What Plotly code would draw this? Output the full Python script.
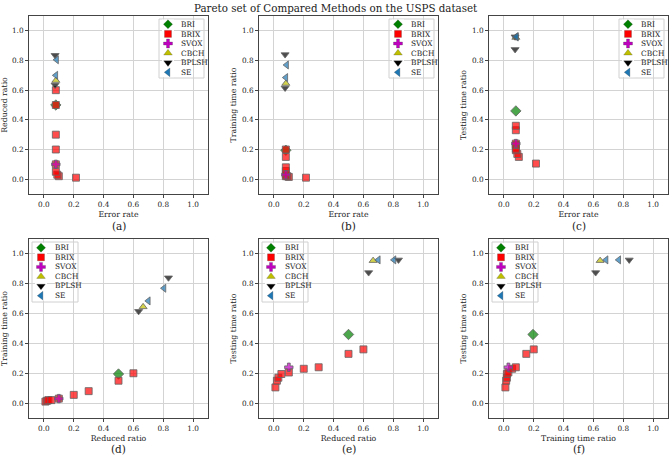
import plotly.graph_objects as go

# ---------------- data ----------------
methods = ["BRI", "BRIX", "SVOX", "CBCH", "BPLSH", "SE"]

bri_error = [0.08]
bri_reduced = [0.50]
bri_train = [0.195]
bri_test = [0.46]

brix_error = [0.215, 0.10, 0.09, 0.08, 0.08, 0.08, 0.08, 0.08, 0.08]
brix_reduced = [0.01, 0.02, 0.03, 0.05, 0.10, 0.20, 0.30, 0.50, 0.60]
brix_train = [0.01, 0.015, 0.02, 0.02, 0.03, 0.055, 0.08, 0.15, 0.20]
brix_test = [0.105, 0.15, 0.17, 0.195, 0.205, 0.23, 0.24, 0.33, 0.36]

svox_error = [0.08]
svox_reduced = [0.10]
svox_train = [0.03]
svox_test = [0.24]

cbch_error = [0.08]
cbch_reduced = [0.665]
cbch_train = [0.645]
cbch_test = [0.955]

bplsh_error = [0.075, 0.075]
bplsh_reduced = [0.835, 0.635]
bplsh_train = [0.84, 0.615]
bplsh_test = [0.96, 0.875]

se_error = [0.08, 0.085]
se_reduced = [0.70, 0.805]
se_train = [0.685, 0.77]
se_test = [0.96, 0.96]

data = {
    "BRI": dict(error=bri_error, reduced=bri_reduced, train=bri_train, test=bri_test),
    "BRIX": dict(error=brix_error, reduced=brix_reduced, train=brix_train, test=brix_test),
    "SVOX": dict(error=svox_error, reduced=svox_reduced, train=svox_train, test=svox_test),
    "CBCH": dict(error=cbch_error, reduced=cbch_reduced, train=cbch_train, test=cbch_test),
    "BPLSH": dict(error=bplsh_error, reduced=bplsh_reduced, train=bplsh_train, test=bplsh_test),
    "SE": dict(error=se_error, reduced=se_reduced, train=se_train, test=se_test),
}

axis_names = {"error": "Error rate", "reduced": "Reduced ratio",
              "train": "Training time ratio", "test": "Testing time ratio"}
panels = [("error", "reduced", "(a)"), ("error", "train", "(b)"), ("error", "test", "(c)"),
          ("reduced", "train", "(d)"), ("reduced", "test", "(e)"), ("train", "test", "(f)")]
tick_vals = [0.0, 0.2, 0.4, 0.6, 0.8, 1.0]
tick_text = ["0.0", "0.2", "0.4", "0.6", "0.8", "1.0"]

# ---------------- styles ----------------
style = {
    "BRI": dict(symbol="diamond", color="rgba(0,128,0,0.7)", solid="#008000", size=8),
    "BRIX": dict(symbol="square", color="rgba(255,0,0,0.7)", solid="#ff0000", size=7),
    "SVOX": dict(symbol="cross", color="rgba(191,0,191,0.7)", solid="#bf00bf", size=7),
    "CBCH": dict(symbol="triangle-up", color="rgba(191,191,0,0.7)", solid="#bfbf00", size=7),
    "BPLSH": dict(symbol="triangle-down", color="rgba(0,0,0,0.7)", solid="#000000", size=7),
    "SE": dict(symbol="triangle-left", color="rgba(31,119,180,0.7)", solid="#1f77b4", size=7),
}
legend_size = {"BRI": 7, "BRIX": 7, "SVOX": 7.5, "CBCH": 7.5, "BPLSH": 7.5, "SE": 7.5}

W, H = 671, 457
FONT = "DejaVu Serif"
TXT = "#222"

col_px = [(29, 208), (259, 438), (489, 668)]
row_px = [(16, 194), (239, 418)]
# legend geometry, pixel offsets from panel's left / top edges
leg_geo = {
    0: dict(box=(130, 175, 3, 62), sym=139, txt=150, first=8.3),
    1: dict(box=(3, 49, 3, 63), sym=12, txt=23.5, first=8.7),
}
STEP = 9.6

fig = go.Figure()
layout = dict(width=W, height=H, margin=dict(l=0, r=0, t=0, b=0),
              paper_bgcolor="white", plot_bgcolor="white", showlegend=False,
              font=dict(family=FONT, size=8, color=TXT))
annotations = []
shapes = []


def px_x(v):
    return v / W


def px_y(v):
    return 1 - v / H


for i, (xk, yk, lab) in enumerate(panels):
    r, c = divmod(i, 3)
    n = "" if i == 0 else str(i + 1)
    x0, x1 = col_px[c]
    yt, yb = row_px[r]
    common = dict(range=[-0.1, 1.1], tickvals=tick_vals, ticktext=tick_text,
                  showgrid=True, gridcolor="#d3d3d3", gridwidth=1, zeroline=False,
                  showline=True, mirror=True, linecolor="#444", linewidth=1,
                  ticks="outside", ticklen=3, tickcolor="#444",
                  tickfont=dict(family=FONT, size=7.3, color=TXT))
    layout["xaxis" + n] = dict(domain=[px_x(x0), px_x(x1)], anchor="y" + n,
                               title=dict(text=axis_names[xk], standoff=3,
                                          font=dict(family=FONT, size=7.8, color=TXT)),
                               **common)
    layout["yaxis" + n] = dict(domain=[px_y(yb), px_y(yt)], anchor="x" + n,
                               title=dict(text=axis_names[yk], standoff=4,
                                          font=dict(family=FONT, size=7.8, color=TXT)),
                               **common)
    for m in methods:
        st = style[m]
        fig.add_trace(go.Scatter(
            x=data[m][xk], y=data[m][yk], mode="markers", name=m,
            xaxis="x" + n, yaxis="y" + n, hoverinfo="skip",
            marker=dict(symbol=st["symbol"], size=st["size"], color=st["color"],
                        line=dict(color="rgba(100,100,100,0.8)", width=1))))
    # subplot label
    label_y = px_y(226 if r == 0 else 449)
    annotations.append(dict(text=lab, x=px_x((x0 + x1) / 2), y=label_y, xref="paper", yref="paper",
                            showarrow=False, xanchor="center", yanchor="middle",
                            font=dict(family=FONT, size=10.5, color=TXT)))

    # ---- legend ----
    g = leg_geo[r]
    bx0, bx1, by0, by1 = g["box"]
    shapes.append(dict(type="rect", xref="paper", yref="paper",
                       x0=px_x(x0 + bx0), x1=px_x(x0 + bx1),
                       y0=px_y(yt + by1), y1=px_y(yt + by0), layer="between",
                       line=dict(color="#d0d0d0", width=1), fillcolor="white"))
    first = yt + g["first"]
    nleg = len(methods)
    # hidden axes to hold legend keys
    ln = str(7 + i)
    sx = x0 + g["sym"]
    layout["xaxis" + ln] = dict(domain=[px_x(sx - 6), px_x(sx + 6)], range=[-0.5, 0.5],
                                visible=False, anchor="y" + ln, fixedrange=True)
    layout["yaxis" + ln] = dict(domain=[px_y(first + (nleg - 0.5) * STEP), px_y(first - 0.5 * STEP)],
                                range=[-0.5, nleg - 0.5], visible=False, anchor="x" + ln,
                                fixedrange=True)
    for j, m in enumerate(methods):
        st = style[m]
        fig.add_trace(go.Scatter(
            x=[0], y=[nleg - 1 - j], mode="markers", name=m,
            xaxis="x" + ln, yaxis="y" + ln, hoverinfo="skip", cliponaxis=False,
            marker=dict(symbol=st["symbol"], size=legend_size[m], color=st["solid"],
                        line=dict(color="rgba(60,60,60,0.5)", width=0.5))))
    annotations.append(dict(text="<br>".join(methods), x=px_x(x0 + g["txt"]),
                            y=px_y(first + (nleg - 1) / 2 * STEP),
                            xref="paper", yref="paper", showarrow=False,
                            xanchor="left", yanchor="middle", align="left",
                            font=dict(family=FONT, size=7.4, color=TXT)))

annotations.append(dict(text="Pareto set of Compared Methods on the USPS dataset",
                        x=0.5, y=px_y(8), xref="paper", yref="paper", showarrow=False,
                        xanchor="center", yanchor="middle",
                        font=dict(family=FONT, size=10.3, color=TXT)))
layout["annotations"] = annotations
layout["shapes"] = shapes
fig.update_layout(**layout)
fig.write_html("out.html", config={"displayModeBar": False},
               post_script="document.body.style.margin='0px';document.body.style.padding='0px';")
